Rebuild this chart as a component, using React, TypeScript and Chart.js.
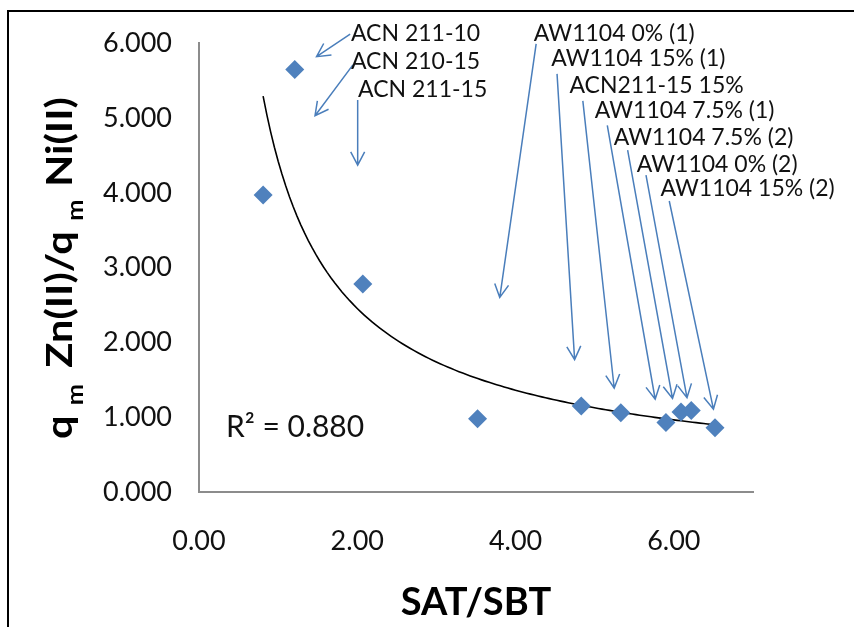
import React, { useEffect, useRef } from "react";
import { Chart, registerables } from "chart.js";

Chart.register(...registerables);

// ---------------- Data ----------------
const SAMPLE_NAMES = [
  "ACN 211-10",
  "ACN 210-15",
  "ACN 211-15",
  "AW1104 0% (1)",
  "AW1104 15% (1)",
  "ACN211-15 15%",
  "AW1104 7.5% (1)",
  "AW1104 7.5% (2)",
  "AW1104 0% (2)",
  "AW1104 15% (2)",
];
const SAT_SBT = [1.21, 0.81, 2.07, 3.52, 4.83, 5.33, 5.9, 6.09, 6.22, 6.52];
const QM_RATIO = [5.65, 3.97, 2.78, 0.98, 1.15, 1.06, 0.93, 1.07, 1.09, 0.86];

const X_MIN = 0;
const X_MAX = 7;
const X_STEP = 2;
const Y_MIN = 0;
const Y_MAX = 6;
const Y_STEP = 1;

const X_TITLE = "SAT/SBT";
const Y_TITLE_PARTS = [
  { text: "q", sub: false },
  { text: "m", sub: true },
  { text: "Zn(II)/q", sub: false },
  { text: "m", sub: true },
  { text: "Ni(II)", sub: false },
];
const R2_TEXT = "R\u00B2 = 0.880";

// ---------------- Layout (annotation callouts, in data units) ----------------
const CALLOUTS = [
  { label: [1.92, 6.13], tail: [1.91, 6.12], tip: [1.485, 5.82] },
  { label: [1.92, 5.76], tail: [1.945, 5.71], tip: [1.466, 5.03] },
  { label: [2.01, 5.38], tail: [2.005, 5.24], tip: [2.005, 4.37] },
  { label: [4.23, 6.13], tail: [4.26, 5.99], tip: [3.8, 2.6] },
  { label: [4.45, 5.79], tail: [4.524, 5.59], tip: [4.746, 1.77] },
  { label: [4.68, 5.44], tail: [4.85, 5.23], tip: [5.246, 1.39] },
  { label: [5.0, 5.1], tail: [5.159, 4.9], tip: [5.764, 1.24] },
  { label: [5.24, 4.74], tail: [5.416, 4.57], tip: [5.983, 1.25] },
  { label: [5.53, 4.38], tail: [5.648, 4.236], tip: [6.166, 1.261] },
  { label: [5.83, 4.05], tail: [5.942, 3.89], tip: [6.5, 1.108] },
];
const R2_POS = [0.34, 0.863];

const FONT = "Lato, 'Open Sans', sans-serif";
const POINT_COLOR = "#4F81BD";
const ARROW_COLOR = "#4A7EBB";
const AXIS_COLOR = "#8C8C8C";

// Power-law trendline fitted to the data (least squares in log-log space)
function powerFit(xs: number[], ys: number[]) {
  const lx = xs.map(Math.log);
  const ly = ys.map(Math.log);
  const n = xs.length;
  const mx = lx.reduce((a, b) => a + b, 0) / n;
  const my = ly.reduce((a, b) => a + b, 0) / n;
  let sxy = 0;
  let sxx = 0;
  for (let i = 0; i < n; i++) {
    sxy += (lx[i] - mx) * (ly[i] - my);
    sxx += (lx[i] - mx) * (lx[i] - mx);
  }
  const b = sxy / sxx;
  const a = Math.exp(my - b * mx);
  return { a, b };
}

const framePlugin = {
  id: "frame",
  beforeDraw(chart: any) {
    const { ctx } = chart;
    ctx.save();
    ctx.fillStyle = "#ffffff";
    ctx.fillRect(0, 0, chart.width, chart.height);
    ctx.fillStyle = "#000000";
    ctx.fillRect(7, 10, 2, chart.height - 10);
    ctx.fillRect(7, 10, chart.width - 7, 2);
    ctx.restore();
  },
};

function drawArrow(ctx: CanvasRenderingContext2D, x1: number, y1: number, x2: number, y2: number) {
  const ang = Math.atan2(y2 - y1, x2 - x1);
  const len = 15;
  const spread = Math.PI / 6.5;
  ctx.beginPath();
  ctx.moveTo(x1, y1);
  ctx.lineTo(x2, y2);
  ctx.moveTo(x2 - len * Math.cos(ang - spread), y2 - len * Math.sin(ang - spread));
  ctx.lineTo(x2, y2);
  ctx.lineTo(x2 - len * Math.cos(ang + spread), y2 - len * Math.sin(ang + spread));
  ctx.stroke();
}

const annotationPlugin = {
  id: "callouts",
  afterDraw(chart: any) {
    const { ctx } = chart;
    const xs = chart.scales.x;
    const ys = chart.scales.y;
    const px = (v: number) => xs.getPixelForValue(v);
    const py = (v: number) => ys.getPixelForValue(v);
    ctx.save();
    ctx.strokeStyle = ARROW_COLOR;
    ctx.lineWidth = 1.5;
    ctx.lineJoin = "miter";
    CALLOUTS.forEach((c) => {
      drawArrow(ctx, px(c.tail[0]), py(c.tail[1]), px(c.tip[0]), py(c.tip[1]));
    });
    ctx.fillStyle = "#111111";
    ctx.textAlign = "left";
    ctx.textBaseline = "middle";
    ctx.font = `23px ${FONT}`;
    CALLOUTS.forEach((c, i) => {
      ctx.fillText(SAMPLE_NAMES[i], px(c.label[0]), py(c.label[1]));
    });
    ctx.font = `30px ${FONT}`;
    ctx.fillText(R2_TEXT, px(R2_POS[0]), py(R2_POS[1]));
    ctx.restore();
  },
};

const yTitlePlugin = {
  id: "yTitle",
  afterDraw(chart: any) {
    const { ctx, chartArea } = chart;
    const cy = (chartArea.top + chartArea.bottom) / 2 + 0.5;
    const mainFont = `bold 36px ${FONT}`;
    const subFont = `bold 22px ${FONT}`;
    const gaps = [9, 14, 9, 11];
    const widths = Y_TITLE_PARTS.map((p) => {
      ctx.font = p.sub ? subFont : mainFont;
      return ctx.measureText(p.text).width;
    });
    const natural = widths.reduce((a, b) => a + b, 0) + gaps.reduce((a, b) => a + b, 0);
    const target = 342;
    const stretch = target / natural;
    ctx.save();
    ctx.translate(72, cy);
    ctx.rotate(-Math.PI / 2);
    ctx.scale(stretch, 1);
    ctx.fillStyle = "#000000";
    ctx.textBaseline = "alphabetic";
    ctx.textAlign = "left";
    let x = -natural / 2;
    Y_TITLE_PARTS.forEach((p, i) => {
      ctx.font = p.sub ? subFont : mainFont;
      ctx.fillText(p.text, x, p.sub ? 11 : 0);
      x += widths[i] + (gaps[i] || 0);
    });
    ctx.restore();
  },
};

export default function App() {
  const canvasRef = useRef<HTMLCanvasElement | null>(null);

  useEffect(() => {
    const canvas = canvasRef.current;
    if (!canvas) return;

    const points = SAT_SBT.map((x, i) => ({ x, y: QM_RATIO[i] }));
    const fit = powerFit(SAT_SBT, QM_RATIO);
    const lo = Math.min(...SAT_SBT);
    const hi = Math.max(...SAT_SBT);
    const steps = 120;
    const trend = Array.from({ length: steps + 1 }, (_, i) => {
      const x = lo + ((hi - lo) * i) / steps;
      return { x, y: fit.a * Math.pow(x, fit.b) };
    });

    const chart = new Chart(canvas, {
      type: "scatter",
      data: {
        datasets: [
          {
            label: "Power trendline",
            type: "line",
            data: trend,
            borderColor: "#000000",
            borderWidth: 1.6,
            pointRadius: 0,
            fill: false,
            tension: 0,
            order: 2,
          } as any,
          {
            label: "qm Zn(II)/qm Ni(II)",
            data: points,
            pointStyle: "rectRot",
            pointRadius: 9.5,
            pointHoverRadius: 9.5,
            backgroundColor: POINT_COLOR,
            borderColor: POINT_COLOR,
            borderWidth: 0,
            order: 1,
          },
        ],
      },
      options: {
        animation: false,
        responsive: false,
        maintainAspectRatio: false,
        events: [],
        layout: { padding: { left: 0, right: 101, top: 40, bottom: 0 } },
        plugins: {
          legend: { display: false },
          tooltip: { enabled: false },
          title: { display: false },
        },
        scales: {
          x: {
            type: "linear",
            min: X_MIN,
            max: X_MAX,
            grid: { display: false, drawTicks: false },
            border: { display: true, color: AXIS_COLOR, width: 2 },
            ticks: {
              stepSize: X_STEP,
              includeBounds: false,
              padding: 33,
              color: "#111111",
              font: { family: FONT, size: 27 },
              maxRotation: 0,
              callback: (v: any) => Number(v).toFixed(2),
            },
            title: {
              display: true,
              text: X_TITLE,
              color: "#000000",
              font: { family: FONT, size: 38, weight: "bold", lineHeight: 1 },
              padding: { top: 0, bottom: 5 },
            },
            afterFit: (s: any) => {
              s.height = 135;
            },
          },
          y: {
            type: "linear",
            min: Y_MIN,
            max: Y_MAX,
            grid: { display: false, drawTicks: false },
            border: { display: true, color: AXIS_COLOR, width: 2 },
            ticks: {
              stepSize: Y_STEP,
              padding: 27,
              color: "#111111",
              font: { family: FONT, size: 27 },
              callback: (v: any) => Number(v).toFixed(3),
            },
            afterFit: (s: any) => {
              s.width = 199;
            },
          },
        },
      },
      plugins: [framePlugin, annotationPlugin, yTitlePlugin],
    });

    return () => {
      chart.destroy();
    };
  }, []);

  return (
    <canvas
      ref={canvasRef}
      width={854}
      height={627}
      style={{ position: "absolute", left: 0, top: 0, width: 854, height: 627, display: "block" }}
    />
  );
}
